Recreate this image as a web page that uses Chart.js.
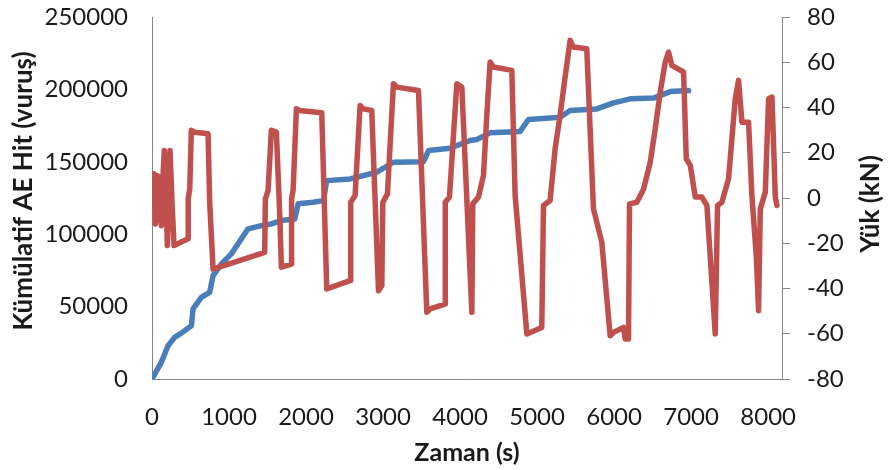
<!DOCTYPE html>
<html>
<head>
<meta charset="utf-8">
<script src="https://cdn.jsdelivr.net/npm/chart.js@4"></script>
<style>
  html, body { margin: 0; padding: 0; background: #fff; }
  #wrap { width: 888px; height: 470px; }
</style>
</head>
<body>
<div id="wrap"><canvas id="aeChart" width="888" height="470"></canvas></div>
<script>
// --- Cumulative AE hits (left axis) ---
const hitTime = [0, 121, 208, 295, 381, 511, 533, 641, 749, 793, 901, 1030, 1247, 1420, 1550, 1680,
  1854, 1897, 2093, 2226, 2269, 2572, 2919, 3135, 3525, 3590, 3871, 4131, 4217, 4390, 4780, 4888,
  5299, 5429, 5776, 5992, 6209, 6512, 6729, 6967];
const hitCount = [0, 11500, 23000, 28800, 31700, 36800, 48400, 56400, 59800, 71400, 79500, 86400,
  103700, 105900, 107100, 109400, 110500, 121000, 122100, 123200, 137000, 138200, 142800, 149700,
  150100, 157800, 159400, 164700, 165400, 170000, 171000, 179200, 180800, 185400, 186500, 190700,
  193500, 194000, 198500, 199200];

// --- Load (right axis) ---
const loadTime = [0, 26, 43, 65, 82, 104, 121, 139, 160, 186, 199, 216, 234, 260, 286, 468, 470, 490,
  511, 555, 728, 749, 793, 1463, 1472, 1507, 1550, 1615, 1659, 1680, 1810, 1812, 1832, 1875, 1919,
  2204, 2269, 2572, 2580, 2637, 2702, 2745, 2853, 2941, 2984, 2997, 3057, 3135, 3178, 3460, 3568,
  3611, 3806, 3808, 3862, 3958, 4023, 4153, 4165, 4239, 4304, 4347, 4390, 4434, 4672, 4715, 4867,
  5061, 5083, 5169, 5234, 5299, 5355, 5429, 5472, 5645, 5732, 5840, 5949, 5992, 6122, 6144, 6187,
  6200, 6296, 6383, 6469, 6534, 6599, 6664, 6707, 6750, 6902, 6937, 6989, 7054, 7140, 7205, 7270,
  7313, 7343, 7400, 7486, 7573, 7616, 7660, 7746, 7789, 7846, 7876, 7898, 7963, 8006, 8050, 8093, 8114];
const loadKN = [-2, 10.7, -11.5, 9.9, -10, 9.2, -12.2, 7, 21, -1.9, -21, -1.9, 21, -1.9, -21, -18, -0.4, 4,
  29.9, 29.1, 28.4, -1.9, -31.4, -24, -0.4, 3.3, 29.9, 29.1, -7.8, -30.6, -29.2, -0.4, 3.3, 39.4, 38.7,
  37.7, -40.2, -36.5, -1.9, 1.1, 40.9, 39.4, 38.7, -41, -38.7, -1.9, 1.8, 50.5, 49, 47.5, -50.5,
  -49, -46.9, -1.9, 0.4, 50.5, 49, -50.5, -2.6, 0.4, 10, 36.5, 60.1, 57.9, 56.4, 1.1, -60.1,
  -57.2, -3.3, -1.1, 21.7, 36.5, 51.2, 69.7, 66.7, 66, -4.8, -19.5, -60.9, -59.4, -57.2, -62.3, -62.3,
  -2.6, -1.9, 4, 15.8, 30.6, 46.8, 60.1, 64.5, 58.6, 55.7, 17.3, 14.4, 0.4, 0.4, -3.3, -37.3,
  -60.1, -3.3, -1.9, 8.5, 43.9, 52, 33.5, 33.5, 1.1, -25.5, -49.8, -4.8, 2.6, 43.9, 44.6, 0.4, -3.3];

// --- Axis ticks ---
const timeTicks = [0, 1000, 2000, 3000, 4000, 5000, 6000, 7000, 8000];
const hitTicks = [0, 50000, 100000, 150000, 200000, 250000];
const loadTicks = [-80, -60, -40, -20, 0, 20, 40, 60, 80];

const axisGray = "#868686";
const textColor = "#1a1a1a";
const fontStack = "Lato, 'Open Sans', sans-serif";

Chart.defaults.font.family = fontStack;
Chart.defaults.font.size = 24;
Chart.defaults.color = textColor;

const setTicks = (values) => (scale) => {
  scale.ticks = values.map((v) => ({ value: v }));
};

// fixed box sizes so the plot area stays put; drop the label overhang padding
const fixWidth = (w) => (scale) => {
  scale.width = w;
  scale.paddingTop = 0;
  scale.paddingBottom = 0;
};
const fixHeight = (h) => (scale) => {
  scale.height = h;
  scale.paddingLeft = 0;
  scale.paddingRight = 0;
};

// vertical titles, both reading bottom-to-top
const sideTitles = {
  id: "sideTitles",
  afterDraw(chart) {
    const { ctx } = chart;
    const draw = (text, x, y) => {
      ctx.save();
      ctx.translate(x, y);
      ctx.rotate(-Math.PI / 2);
      ctx.font = "bold 26px " + fontStack;
      ctx.fillStyle = textColor;
      ctx.textAlign = "center";
      ctx.textBaseline = "middle";
      ctx.fillText(text, 0, 0);
      ctx.restore();
    };
    draw("Kümülatif AE Hit (vuruş)", 24, 191);
    draw("Yük (kN)", 871, 204);
  },
};

const ctx = document.getElementById("aeChart").getContext("2d");
new Chart(ctx, {
  type: "line",
  data: {
    datasets: [
      {
        label: "Yük",
        data: loadTime.map((t, i) => ({ x: t, y: loadKN[i] })),
        yAxisID: "y2",
        borderColor: "#C0504D",
        borderWidth: 5.5,
        pointRadius: 0,
        tension: 0,
        borderJoinStyle: "round",
        borderCapStyle: "round",
        order: 0,
      },
      {
        label: "Kümülatif AE Hit",
        data: hitTime.map((t, i) => ({ x: t, y: hitCount[i] })),
        yAxisID: "y",
        borderColor: "#4A7EBB",
        borderWidth: 5.5,
        pointRadius: 0,
        tension: 0,
        borderJoinStyle: "round",
        borderCapStyle: "round",
        order: 1,
      },
    ],
  },
  options: {
    responsive: false,
    animation: false,
    devicePixelRatio: 1,
    layout: { padding: { top: 17, left: 0, right: 0, bottom: 0 } },
    plugins: { legend: { display: false }, tooltip: { enabled: false } },
    scales: {
      x: {
        type: "linear",
        min: 0,
        max: 8180,
        afterFit: fixHeight(91),
        afterBuildTicks: setTicks(timeTicks),
        ticks: { padding: 24, maxRotation: 0, autoSkip: false, callback: (v) => String(v) },
        grid: { display: false, drawTicks: false },
        border: { display: true, color: axisGray, width: 1 },
        title: { display: true, text: "Zaman (s)", font: { weight: "bold", size: 25 }, padding: { top: 0, bottom: 2 } },
      },
      y: {
        position: "left",
        min: 0,
        max: 250000,
        afterFit: fixWidth(152),
        afterBuildTicks: setTicks(hitTicks),
        ticks: { padding: 24, callback: (v) => String(v) },
        grid: { display: false, drawTicks: false },
        border: { display: true, color: axisGray, width: 1 },
      },
      y2: {
        position: "right",
        min: -80,
        max: 80,
        afterFit: fixWidth(106),
        afterBuildTicks: setTicks(loadTicks),
        ticks: { padding: 17, callback: (v) => String(v) },
        grid: { display: true, drawOnChartArea: false, drawTicks: true, tickLength: 8, color: axisGray },
        border: { display: true, color: axisGray, width: 1 },
      },
    },
  },
  plugins: [sideTitles],
});
</script>
</body>
</html>
